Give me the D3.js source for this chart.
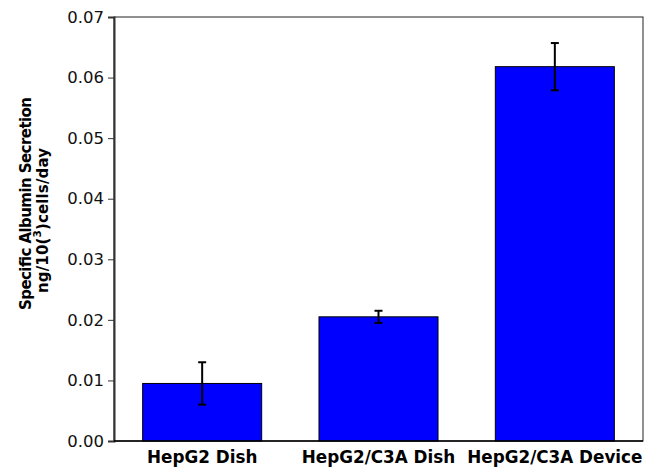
<!DOCTYPE html>
<html>
<head>
<meta charset="utf-8">
<script src="https://cdn.jsdelivr.net/npm/d3@7"></script>
<style>
  html, body { margin: 0; padding: 0; background: #fff; }
  svg { display: block; font-family: "DejaVu Sans", Verdana, sans-serif; }
</style>
</head>
<body>
<svg id="chart" width="659" height="471"></svg>
<script>
const categories = ["HepG2 Dish", "HepG2/C3A Dish", "HepG2/C3A Device"];
const values = [0.0095, 0.0205, 0.0618];
const errors = [0.0035, 0.0010, 0.0039];
const yTicks = [0, 0.01, 0.02, 0.03, 0.04, 0.05, 0.06, 0.07];

const data = categories.map((c, i) => ({ c, v: values[i], e: errors[i] }));

const svg = d3.select("#chart");
const m = { left: 114, right: 16, top: 17, bottom: 30 };
const W = 659, H = 471;
const x = d3.scaleBand().domain(categories).range([m.left, W - m.right]).paddingInner(0.325).paddingOuter(0.1625);
const y = d3.scaleLinear().domain([0, 0.07]).range([H - m.bottom, m.top]);

// frame (top & right)
svg.append("rect")
  .attr("x", m.left).attr("y", m.top)
  .attr("width", W - m.right - m.left).attr("height", H - m.bottom - m.top)
  .attr("fill", "none").attr("stroke", "#222").attr("stroke-width", 1);

// bars
svg.selectAll("rect.bar").data(data).join("rect")
  .attr("class", "bar")
  .attr("x", d => x(d.c))
  .attr("y", d => y(d.v))
  .attr("width", x.bandwidth())
  .attr("height", d => y(0) - y(d.v))
  .attr("fill", "#0000ff")
  .attr("stroke", "#000").attr("stroke-width", 1);

// error bars
const cx = d => x(d.c) + x.bandwidth() / 2;
const eb = svg.selectAll("g.err").data(data).join("g").attr("class", "err");
eb.append("line")
  .attr("x1", cx).attr("x2", cx)
  .attr("y1", d => y(d.v + d.e)).attr("y2", d => y(d.v - d.e))
  .attr("stroke", "#000").attr("stroke-width", 2);
eb.append("line")
  .attr("x1", d => cx(d) - 4).attr("x2", d => cx(d) + 4)
  .attr("y1", d => y(d.v + d.e)).attr("y2", d => y(d.v + d.e))
  .attr("stroke", "#000").attr("stroke-width", 2);
eb.append("line")
  .attr("x1", d => cx(d) - 4).attr("x2", d => cx(d) + 4)
  .attr("y1", d => y(d.v - d.e)).attr("y2", d => y(d.v - d.e))
  .attr("stroke", "#000").attr("stroke-width", 2);

// y axis
const ya = svg.append("g").attr("transform", `translate(${m.left},0)`)
  .call(d3.axisLeft(y).tickValues(yTicks).tickFormat(d3.format(".2f")).tickSize(6).tickPadding(4));
ya.select(".domain").attr("stroke", "#333").attr("stroke-width", 2);
ya.selectAll(".tick line").attr("stroke", "#333");
ya.selectAll(".tick text").attr("font-size", 16.5).attr("font-family", "DejaVu Sans, Verdana, sans-serif").attr("fill", "#111");

// x axis
const xa = svg.append("g").attr("transform", `translate(0,${H - m.bottom})`)
  .call(d3.axisBottom(x).tickSize(0).tickPadding(10));
xa.select(".domain").attr("stroke", "#000").attr("stroke-width", 1.5)
  .attr("d", `M${m.left},0H${W - m.right}`);
xa.selectAll(".tick text").attr("font-size", 16.8).attr("font-weight", "bold")
  .attr("font-family", "DejaVu Sans, Verdana, sans-serif").attr("fill", "#000")
  .attr("dy", "0.71em");

// y label
svg.append("text")
  .attr("transform", "translate(30.5,203.5) rotate(-90)")
  .attr("text-anchor", "middle").attr("font-size", 15).attr("font-weight", "bold")
  .attr("textLength", 213).attr("lengthAdjust", "spacing")
  .text("Specific Albumin Secretion");
const l2 = svg.append("text")
  .attr("transform", "translate(48,220.5) rotate(-90)")
  .attr("text-anchor", "middle").attr("font-size", 15).attr("font-weight", "bold")
  .attr("textLength", 145).attr("lengthAdjust", "spacing");
l2.append("tspan").text("ng/10(");
l2.append("tspan").attr("font-size", 10.5).attr("dy", -7).text("3");
l2.append("tspan").attr("dy", 7).text(")cells/day");
</script>
</body>
</html>
